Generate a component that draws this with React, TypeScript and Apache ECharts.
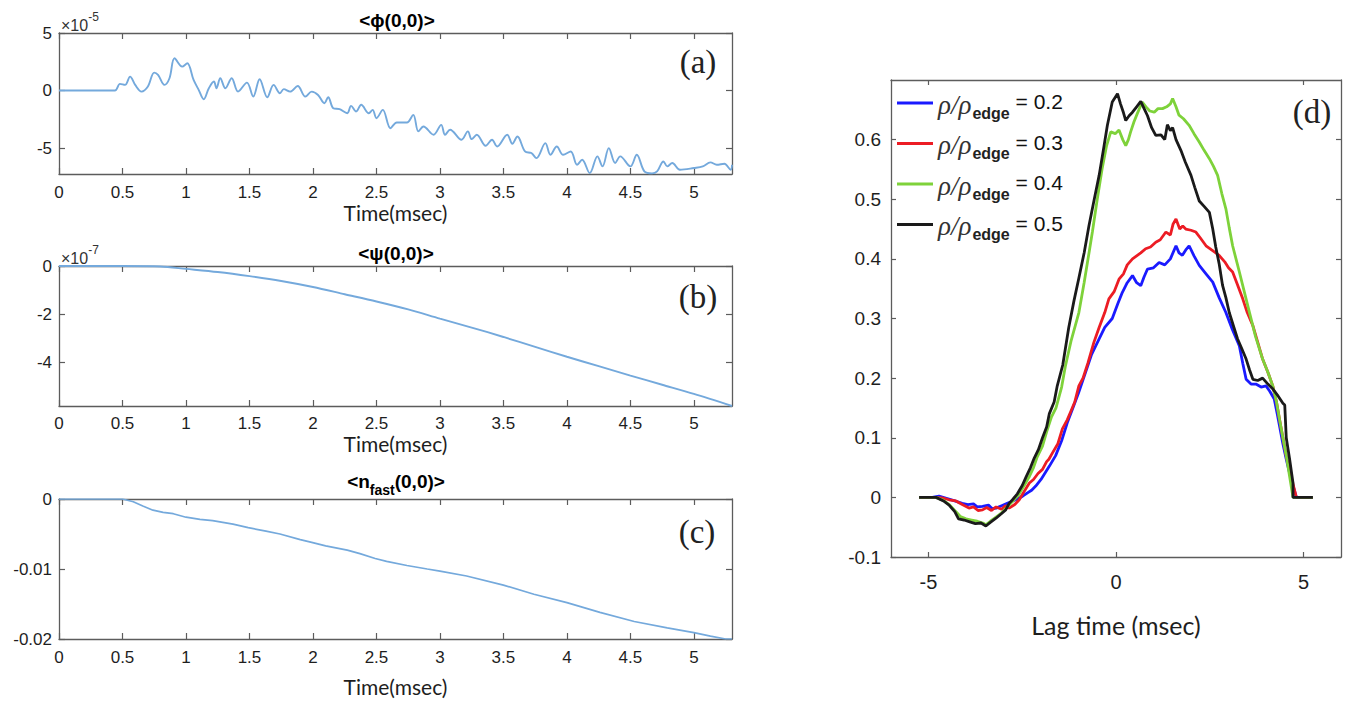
import React, { useEffect, useRef } from "react";
import * as echarts from "echarts";

// ---------- tick values ----------
const TIME_TICKS = [0, 0.5, 1, 1.5, 2, 2.5, 3, 3.5, 4, 4.5, 5];
const PHI_TICKS = [-5, 0, 5];
const PSI_TICKS = [-4, -2, 0];
const NFAST_TICKS = [-0.02, -0.01, 0];
const LAG_TICKS = [-5, 0, 5];
const CORR_TICKS = [-0.1, 0, 0.1, 0.2, 0.3, 0.4, 0.5, 0.6];

// ---------- panel (a): <phi(0,0)>  (x 1e-5) ----------
const PHI: [number, number][] = [
  [0, 0], [0.44, 0], [0.48, 0.58], [0.52, 0.49], [0.56, 1.21], [0.6, 0.49], [0.65, -0.09], [0.7, 0.35],
  [0.75, 1.56], [0.78, 1.36], [0.83, 0.49], [0.87, 1.07], [0.91, 2.8], [0.97, 2.08], [1.01, 2.37],
  [1.06, 0.92], [1.1, 0.06], [1.14, -0.75], [1.18, 0.2], [1.22, 0.78], [1.24, 0.2], [1.27, 1.07],
  [1.31, 0.2], [1.36, 1.07], [1.41, -0.09], [1.48, 0.69], [1.53, -0.52], [1.58, 0.98], [1.64, -0.58],
  [1.69, 0.49], [1.74, -0.23], [1.77, 0.12], [1.82, -0.09], [1.88, 0.4], [1.94, -0.52], [1.99, -0.09],
  [2.04, -0.38], [2.09, -1.1], [2.12, -0.58], [2.16, -1.53], [2.21, -1.62], [2.27, -1.97], [2.3, -1.33],
  [2.34, -1.82], [2.38, -1.24], [2.44, -1.97], [2.47, -1.68], [2.5, -2.4], [2.55, -1.68], [2.61, -3.27],
  [2.66, -2.77], [2.74, -2.77], [2.79, -2.11], [2.83, -3.55], [2.87, -3.12], [2.95, -3.84], [3.01, -2.98],
  [3.04, -3.84], [3.08, -3.41], [3.17, -4.28], [3.22, -3.55], [3.25, -4.22], [3.29, -3.84], [3.36, -4.8],
  [3.41, -4.28], [3.45, -4.86], [3.53, -3.84], [3.57, -4.62], [3.61, -3.99], [3.67, -5.29], [3.72, -5.43],
  [3.76, -5.87], [3.83, -4.57], [3.87, -5.58], [3.92, -4.86], [3.97, -5.58], [4.03, -5.29], [4.08, -6.45],
  [4.12, -6.01], [4.18, -7.17], [4.24, -5.72], [4.28, -6.59], [4.33, -5.0], [4.38, -6.3], [4.42, -5.72],
  [4.5, -6.59], [4.55, -5.58], [4.61, -7.02], [4.67, -7.2], [4.71, -7.02], [4.76, -6.16], [4.79, -6.59],
  [4.83, -6.3], [4.89, -6.88], [5.0, -6.73], [5.07, -6.59], [5.13, -6.24], [5.18, -6.45], [5.24, -6.36],
  [5.29, -6.88], [5.3, -6.45],
];

// ---------- panel (b): <psi(0,0)>  (x 1e-7) ----------
const PSI: [number, number][] = [
  [0, 0], [0.5, 0], [0.8, -0.02], [1.0, -0.12], [1.25, -0.25], [1.5, -0.42], [1.75, -0.62], [2.0, -0.87],
  [2.25, -1.17], [2.5, -1.47], [2.75, -1.8], [3.0, -2.18], [3.25, -2.55], [3.5, -2.94], [3.75, -3.35],
  [4.0, -3.76], [4.25, -4.15], [4.5, -4.54], [4.75, -4.92], [5.0, -5.3], [5.3, -5.8],
];

// ---------- panel (c): <n_fast(0,0)> ----------
const NFAST: [number, number][] = [
  [0, 0], [0.5, 0], [0.585, -0.0004], [0.66, -0.001], [0.74, -0.0016], [0.82, -0.0019], [0.9, -0.0021],
  [1.0, -0.0026], [1.11, -0.0029], [1.21, -0.0031], [1.37, -0.0036], [1.49, -0.0041], [1.63, -0.0046],
  [1.74, -0.005], [1.9, -0.0058], [1.99, -0.0062], [2.1, -0.0067], [2.27, -0.0073], [2.37, -0.0078],
  [2.49, -0.0085], [2.58, -0.0089], [2.74, -0.0095], [2.9, -0.01], [3.0, -0.0103], [3.21, -0.011],
  [3.5, -0.0123], [3.74, -0.0136], [4.0, -0.0148], [4.26, -0.0162], [4.53, -0.0175], [4.79, -0.0184],
  [5.0, -0.0191], [5.13, -0.0196], [5.25, -0.02], [5.3, -0.02],
];

// ---------- panel (d): cross-correlation vs lag time ----------
const LEGEND_LABELS = ["0.2", "0.3", "0.4", "0.5"];

const CORR_02: [number, number][] = [
  [-5.25, 0], [-4.9, 0], [-4.72, 0.002], [-4.5, -0.002], [-4.3, -0.006], [-4.1, -0.01], [-3.95, -0.012],
  [-3.8, -0.011], [-3.7, -0.016], [-3.56, -0.015], [-3.4, -0.013], [-3.3, -0.019], [-3.2, -0.018],
  [-3.05, -0.014], [-2.9, -0.01], [-2.75, -0.006], [-2.6, -0.002], [-2.49, 0.002], [-2.35, 0.008],
  [-2.25, 0.012], [-2.14, 0.019], [-2.0, 0.03], [-1.9, 0.04], [-1.78, 0.052], [-1.61, 0.07],
  [-1.45, 0.095], [-1.3, 0.125], [-1.15, 0.15], [-1.0, 0.175], [-0.81, 0.21], [-0.65, 0.24],
  [-0.45, 0.266], [-0.3, 0.285], [-0.1, 0.3], [0.05, 0.325], [0.17, 0.344], [0.3, 0.36], [0.44, 0.372],
  [0.55, 0.36], [0.66, 0.355], [0.75, 0.37], [0.84, 0.383], [1.0, 0.385], [1.15, 0.394], [1.3, 0.39],
  [1.45, 0.4], [1.6, 0.422], [1.68, 0.41], [1.77, 0.406], [1.86, 0.415], [1.95, 0.422], [2.08, 0.405],
  [2.22, 0.389], [2.4, 0.375], [2.58, 0.361], [2.75, 0.335], [2.93, 0.31], [3.1, 0.282], [3.29, 0.254],
  [3.38, 0.225], [3.47, 0.198], [3.6, 0.19], [3.73, 0.19], [3.87, 0.185], [4.0, 0.187], [4.1, 0.178],
  [4.22, 0.165], [4.3, 0.14], [4.36, 0.12], [4.45, 0.09], [4.54, 0.064], [4.65, 0.035], [4.81, 0],
  [5.25, 0],
];

const CORR_03: [number, number][] = [
  [-5.25, 0], [-4.85, 0], [-4.63, -0.001], [-4.45, -0.004], [-4.27, -0.006], [-4.1, -0.012],
  [-3.92, -0.018], [-3.8, -0.016], [-3.68, -0.022], [-3.56, -0.021], [-3.45, -0.017], [-3.32, -0.022],
  [-3.2, -0.016], [-3.05, -0.02], [-2.95, -0.014], [-2.85, -0.018], [-2.7, -0.012], [-2.58, -0.004],
  [-2.45, 0.01], [-2.31, 0.024], [-2.2, 0.03], [-2.08, 0.04], [-1.96, 0.047], [-1.85, 0.06],
  [-1.79, 0.064], [-1.69, 0.075], [-1.55, 0.09], [-1.43, 0.115], [-1.3, 0.13], [-1.2, 0.145],
  [-1.1, 0.16], [-0.99, 0.187], [-0.88, 0.2], [-0.75, 0.225], [-0.59, 0.26], [-0.45, 0.285],
  [-0.3, 0.31], [-0.19, 0.333], [-0.05, 0.345], [0.08, 0.366], [0.2, 0.375], [0.3, 0.39], [0.44, 0.4],
  [0.55, 0.405], [0.66, 0.41], [0.79, 0.417], [0.92, 0.42], [1.06, 0.428], [1.18, 0.432], [1.33, 0.445],
  [1.45, 0.44], [1.52, 0.458], [1.6, 0.467], [1.7, 0.45], [1.78, 0.455], [1.86, 0.45], [2.0, 0.448],
  [2.13, 0.445], [2.25, 0.435], [2.4, 0.422], [2.55, 0.415], [2.75, 0.406], [2.9, 0.395], [3.0, 0.385],
  [3.11, 0.378], [3.25, 0.355], [3.38, 0.333], [3.5, 0.31], [3.65, 0.288], [3.78, 0.26], [3.91, 0.232],
  [4.05, 0.21], [4.18, 0.187], [4.28, 0.16], [4.36, 0.131], [4.45, 0.1], [4.54, 0.069], [4.65, 0.04],
  [4.81, 0], [5.25, 0],
];

const CORR_04: [number, number][] = [
  [-5.25, 0], [-4.8, 0], [-4.6, -0.005], [-4.45, -0.012], [-4.3, -0.022], [-4.15, -0.032], [-4.0, -0.036],
  [-3.85, -0.038], [-3.7, -0.04], [-3.55, -0.043], [-3.47, -0.046], [-3.35, -0.04], [-3.2, -0.033],
  [-3.05, -0.026], [-2.9, -0.016], [-2.75, -0.006], [-2.6, 0.004], [-2.45, 0.02], [-2.31, 0.035],
  [-2.2, 0.05], [-2.1, 0.068], [-1.96, 0.086], [-1.85, 0.11], [-1.72, 0.135], [-1.6, 0.15],
  [-1.45, 0.185], [-1.35, 0.22], [-1.2, 0.262], [-0.99, 0.31], [-0.85, 0.36], [-0.72, 0.41],
  [-0.63, 0.445], [-0.5, 0.5], [-0.37, 0.551], [-0.25, 0.59], [-0.14, 0.613], [-0.02, 0.61],
  [0.08, 0.616], [0.18, 0.6], [0.26, 0.59], [0.33, 0.6], [0.39, 0.613], [0.48, 0.63], [0.57, 0.644],
  [0.7, 0.663], [0.8, 0.655], [0.9, 0.648], [1.02, 0.646], [1.12, 0.652], [1.24, 0.652], [1.35, 0.655],
  [1.45, 0.66], [1.51, 0.669], [1.6, 0.655], [1.68, 0.641], [1.8, 0.635], [1.95, 0.624], [2.08, 0.61],
  [2.22, 0.596], [2.35, 0.582], [2.49, 0.568], [2.6, 0.555], [2.71, 0.54], [2.82, 0.51], [2.93, 0.484],
  [3.02, 0.452], [3.11, 0.422], [3.2, 0.4], [3.29, 0.378], [3.42, 0.345], [3.56, 0.31], [3.72, 0.27],
  [3.91, 0.232], [4.05, 0.21], [4.18, 0.187], [4.28, 0.16], [4.36, 0.131], [4.45, 0.1], [4.54, 0.07],
  [4.63, 0.035], [4.72, 0], [5.25, 0],
];

const CORR_05: [number, number][] = [
  [-5.25, 0], [-4.8, 0], [-4.6, -0.006], [-4.45, -0.013], [-4.3, -0.024], [-4.2, -0.036], [-4.05, -0.038],
  [-3.9, -0.041], [-3.75, -0.044], [-3.6, -0.043], [-3.47, -0.048], [-3.35, -0.042], [-3.2, -0.035],
  [-3.05, -0.027], [-2.94, -0.021], [-2.85, -0.01], [-2.76, -0.004], [-2.63, 0.006], [-2.5, 0.02],
  [-2.4, 0.034], [-2.28, 0.05], [-2.18, 0.066], [-2.07, 0.08], [-1.96, 0.1], [-1.85, 0.118],
  [-1.78, 0.14], [-1.65, 0.16], [-1.57, 0.186], [-1.42, 0.222], [-1.26, 0.285], [-1.12, 0.33],
  [-0.99, 0.368], [-0.85, 0.41], [-0.72, 0.456], [-0.58, 0.5], [-0.45, 0.54], [-0.33, 0.585],
  [-0.23, 0.624], [-0.1, 0.663], [0.04, 0.677], [0.12, 0.66], [0.2, 0.645], [0.26, 0.632], [0.35, 0.64],
  [0.44, 0.646], [0.55, 0.655], [0.66, 0.664], [0.75, 0.652], [0.84, 0.64], [0.95, 0.62], [1.06, 0.607],
  [1.2, 0.608], [1.3, 0.6], [1.37, 0.625], [1.45, 0.615], [1.51, 0.62], [1.6, 0.6], [1.73, 0.582],
  [1.85, 0.562], [2.0, 0.54], [2.1, 0.52], [2.22, 0.497], [2.35, 0.488], [2.49, 0.478], [2.58, 0.45],
  [2.66, 0.42], [2.75, 0.392], [2.84, 0.356], [2.93, 0.335], [3.02, 0.31], [3.12, 0.29], [3.24, 0.266],
  [3.35, 0.25], [3.47, 0.232], [3.56, 0.214], [3.65, 0.198], [3.78, 0.196], [3.91, 0.2], [4.05, 0.19],
  [4.18, 0.182], [4.3, 0.172], [4.45, 0.158], [4.5, 0.155], [4.54, 0.1], [4.63, 0.064], [4.72, 0.024],
  [4.72, 0], [5.25, 0],
];

const AXIS_COLOR = "#5c5c5c";
const TEXT_COLOR = "#1e1e1e";
const ABC_LINE = "#74a9dc";
const SANS = "'Liberation Sans', Arial, sans-serif";
const SERIF = "'Liberation Serif', 'Times New Roman', serif";
const CALIBRI = "Lato, 'Open Sans', sans-serif";

const fmt = (v: number) => `${parseFloat(Number(v).toPrecision(6))}`;

function xAxes(grid: number, min: number, max: number, ticks: number[], o: any) {
  const line = { show: true, onZero: false, lineStyle: { color: AXIS_COLOR, width: 1.3 } };
  return [
    {
      type: "value", gridIndex: grid, min, max, position: "bottom",
      axisLine: line,
      axisTick: { show: true, inside: true, length: o.tick, customValues: ticks, lineStyle: { color: AXIS_COLOR, width: 1.2 } },
      axisLabel: { customValues: ticks, formatter: fmt, margin: o.margin, fontSize: o.fontSize, fontFamily: SANS, color: TEXT_COLOR },
      splitLine: { show: false },
      name: o.name, nameLocation: "middle", nameGap: o.nameGap,
      nameTextStyle: { fontFamily: CALIBRI, fontSize: o.nameSize, color: TEXT_COLOR },
    },
    {
      type: "value", gridIndex: grid, min, max, position: "top",
      axisLine: line,
      axisTick: { show: true, inside: true, length: o.tick, customValues: ticks, lineStyle: { color: AXIS_COLOR, width: 1.2 } },
      axisLabel: { show: false },
      splitLine: { show: false },
    },
  ];
}

function yAxes(grid: number, min: number, max: number, ticks: number[], o: any) {
  const line = { show: true, onZero: false, lineStyle: { color: AXIS_COLOR, width: 1.3 } };
  return [
    {
      type: "value", gridIndex: grid, min, max, position: "left",
      axisLine: line,
      axisTick: { show: true, inside: true, length: o.tick, customValues: ticks, lineStyle: { color: AXIS_COLOR, width: 1.2 } },
      axisLabel: { customValues: ticks, formatter: fmt, margin: o.margin, fontSize: o.fontSize, fontFamily: SANS, color: TEXT_COLOR },
      splitLine: { show: false },
    },
    {
      type: "value", gridIndex: grid, min, max, position: "right",
      axisLine: line,
      axisTick: { show: true, inside: true, length: o.tick, customValues: ticks, lineStyle: { color: AXIS_COLOR, width: 1.2 } },
      axisLabel: { show: false },
      splitLine: { show: false },
    },
  ];
}

function titleText(x: number, y: number, text: string, rich?: any) {
  return {
    type: "text", x, y, silent: true,
    style: {
      text, align: "center", verticalAlign: "middle", fill: "#000",
      fontFamily: SANS, fontWeight: "bold", fontSize: 19, rich,
    },
  };
}

function exponentText(x: number, y: number, exp: string) {
  return {
    type: "text", x, y, silent: true,
    style: {
      text: `{a|×10}{b|${exp}}`, align: "left", verticalAlign: "top", fill: "#333",
      fontFamily: SANS, fontSize: 16,
      rich: {
        a: { fontFamily: SANS, fontSize: 16, lineHeight: 16, padding: [6, 0, 0, 0], verticalAlign: "top", fill: "#333" },
        b: { fontFamily: SANS, fontSize: 12, lineHeight: 12, verticalAlign: "top", fill: "#333" },
      },
    },
  };
}

function panelLabel(x: number, y: number, text: string) {
  return {
    type: "text", x, y, silent: true,
    style: { text, align: "center", verticalAlign: "middle", fill: "#222", fontFamily: SERIF, fontSize: 33 },
  };
}

export default function App() {
  const ref = useRef<HTMLDivElement>(null);

  useEffect(() => {
    if (!ref.current) return;
    const chart = echarts.init(ref.current, undefined, { renderer: "svg" });

    const abcOpts = (name: string, nameGap: number, margin: number) => ({
      tick: 6, margin, fontSize: 17, name, nameGap, nameSize: 21,
    });

    const option: any = {
      animation: false,
      backgroundColor: "#ffffff",
      grid: [
        { left: 59, top: 33, width: 673, height: 141 },
        { left: 59, top: 266, width: 673, height: 140 },
        { left: 59, top: 499, width: 673, height: 140 },
        { left: 891, top: 80, width: 450, height: 477 },
      ],
      xAxis: [
        ...xAxes(0, 0, 5.3, TIME_TICKS, abcOpts("Time(msec)", 27, 10)),
        ...xAxes(1, 0, 5.3, TIME_TICKS, abcOpts("Time(msec)", 25, 9)),
        ...xAxes(2, 0, 5.3, TIME_TICKS, abcOpts("Time(msec)", 37, 10)),
        ...xAxes(3, -6, 6, LAG_TICKS, { tick: 5, margin: 15, fontSize: 20, name: "Lag time (msec)", nameGap: 55, nameSize: 25 }),
      ],
      yAxis: [
        ...yAxes(0, -7.25, 5, PHI_TICKS, { tick: 6, margin: 7, fontSize: 17 }),
        ...yAxes(1, -5.8, 0, PSI_TICKS, { tick: 6, margin: 7, fontSize: 17 }),
        ...yAxes(2, -0.02, 0, NFAST_TICKS, { tick: 6, margin: 7, fontSize: 17 }),
        ...yAxes(3, -0.1, 0.7, CORR_TICKS, { tick: 5, margin: 10, fontSize: 19 }),
      ],
      legend: {
        show: true,
        orient: "vertical",
        left: 897,
        top: 91,
        padding: 0,
        itemGap: 10.5,
        itemWidth: 36,
        itemHeight: 3,
        icon: "rect",
        data: LEGEND_LABELS.map((l) => `rho${l}`),
        formatter: (name: string) => `{r|ρ/ρ}{s|edge}{e| = ${name.replace("rho", "")}}`,
        textStyle: {
          color: "#111",
          rich: {
            r: { fontFamily: SERIF, fontStyle: "italic", fontSize: 27, lineHeight: 24, verticalAlign: "top", color: "#333" },
            s: { fontFamily: SANS, fontWeight: "bold", fontSize: 16, lineHeight: 16, padding: [14, 0, 0, 1], verticalAlign: "top", color: "#222" },
            e: { fontFamily: SANS, fontSize: 21, lineHeight: 24, verticalAlign: "top", color: "#111" },
          },
        },
      },
      series: [
        { name: "phi", type: "line", xAxisIndex: 0, yAxisIndex: 0, data: PHI, showSymbol: false, smooth: 0.35, color: ABC_LINE, lineStyle: { width: 1.9, color: ABC_LINE } },
        { name: "psi", type: "line", xAxisIndex: 2, yAxisIndex: 2, data: PSI, showSymbol: false, smooth: 0.3, color: ABC_LINE, lineStyle: { width: 1.9, color: ABC_LINE } },
        { name: "nfast", type: "line", xAxisIndex: 4, yAxisIndex: 4, data: NFAST, showSymbol: false, color: ABC_LINE, lineStyle: { width: 1.7, color: ABC_LINE } },
        { name: "rho0.2", type: "line", xAxisIndex: 6, yAxisIndex: 6, data: CORR_02, showSymbol: false, color: "#1a1aff", lineStyle: { width: 2.8, color: "#1a1aff" } },
        { name: "rho0.3", type: "line", xAxisIndex: 6, yAxisIndex: 6, data: CORR_03, showSymbol: false, color: "#ec1c24", lineStyle: { width: 2.8, color: "#ec1c24" } },
        { name: "rho0.4", type: "line", xAxisIndex: 6, yAxisIndex: 6, data: CORR_04, showSymbol: false, color: "#7ed23a", lineStyle: { width: 2.8, color: "#7ed23a" } },
        { name: "rho0.5", type: "line", xAxisIndex: 6, yAxisIndex: 6, data: CORR_05, showSymbol: false, color: "#1a1a1a", lineStyle: { width: 2.8, color: "#1a1a1a" } },
      ],
      graphic: [
        titleText(397, 20, "<ϕ(0,0)>"),
        titleText(396, 253, "<ψ(0,0)>"),
        titleText(396, 482, "{a|<n}{b|fast}{a|(0,0)>}", {
          a: { fontFamily: SANS, fontWeight: "bold", fontSize: 19, lineHeight: 20, verticalAlign: "top", fill: "#000" },
          b: { fontFamily: SANS, fontWeight: "bold", fontSize: 14, lineHeight: 14, padding: [11, 0, 0, 0], verticalAlign: "top", fill: "#000" },
        }),
        exponentText(61, 11, "-5"),
        exponentText(61, 244, "-7"),
        panelLabel(698, 62, "(a)"),
        panelLabel(698, 297, "(b)"),
        panelLabel(697, 532, "(c)"),
        panelLabel(1312, 112, "(d)"),
      ],
    };

    chart.setOption(option);
    return () => chart.dispose();
  }, []);

  return (
    <div
      ref={ref}
      style={{ position: "fixed", left: 0, top: 0, width: 1349, height: 701, background: "#fff" }}
    />
  );
}
